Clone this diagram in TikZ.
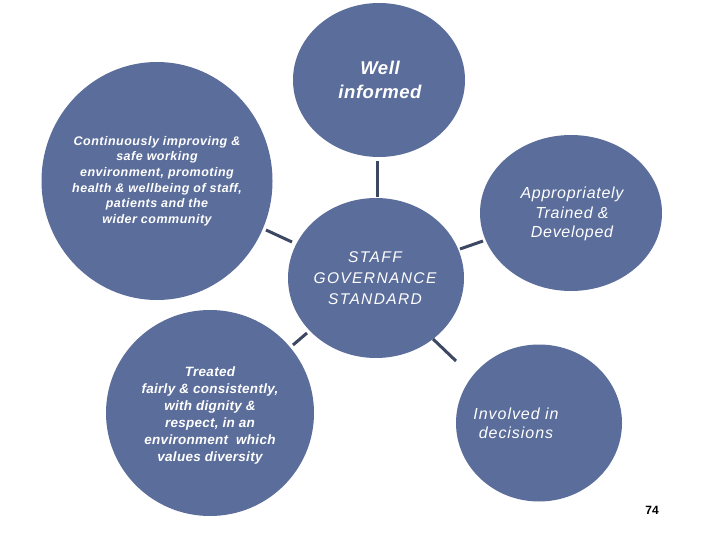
\documentclass[tikz,border=0pt]{standalone}
\usepackage{fontspec}
\setmainfont{Liberation Sans}
\usetikzlibrary{shapes.geometric}
\definecolor{bubble}{HTML}{5B6D9A}
\definecolor{linkc}{HTML}{3C4762}
\tikzset{
  bub/.style={ellipse, fill=bubble, draw=none, inner sep=0pt},
  txt/.style={text=white, align=center, inner sep=0pt},
  conn/.style={draw=linkc, line width=3pt}
}
\begin{document}
\begin{tikzpicture}[x=1pt,y=-1pt]
\useasboundingbox[fill=white] (0,0) rectangle (720,540);
% bubbles
\node[bub, minimum width=172pt, minimum height=154pt] (top) at (379,80) {};
\node[bub, minimum width=231pt, minimum height=238pt] (lt) at (157,181) {};
\node[bub, minimum width=182pt, minimum height=156pt] (rt) at (571,213) {};
\node[bub, minimum width=176pt, minimum height=160pt] (mid) at (376,278) {};
\node[bub, minimum width=208pt, minimum height=206pt] (lb) at (210,413) {};
\node[bub, minimum width=166pt, minimum height=157pt] (rb) at (539,423) {};
% texts
\node[txt, font=\addfontfeatures{LetterSpace=3}\fontsize{18.5}{24}\selectfont\bfseries\itshape] (ttop) at (380,80) {Well\\informed};
\node[txt, font=\addfontfeatures{LetterSpace=4}\fontsize{12.5}{15.6}\selectfont\bfseries\itshape] (tlt) at (157,181) {Continuously improving \&\\safe working\\environment, promoting\\health \& wellbeing of staff,\\patients and the\\wider community};
\node[txt, font=\addfontfeatures{LetterSpace=4.5}\fontsize{16}{19.5}\selectfont\itshape] (trt) at (572,214) {Appropriately\\Trained \&\\Developed};
\node[txt, font=\addfontfeatures{LetterSpace=9}\fontsize{15.5}{21}\selectfont\itshape] (tmid) at (375,278) {STAFF\\GOVERNANCE\\STANDARD};
\node[txt, font=\addfontfeatures{LetterSpace=2}\fontsize{13.5}{17}\selectfont\bfseries\itshape] (tlb) at (210,416) {Treated\\fairly \& consistently,\\with dignity \&\\respect, in an\\environment\ \ which\\values diversity};
\node[txt, font=\addfontfeatures{LetterSpace=6}\fontsize{16}{19}\selectfont\itshape] (trb) at (516,423) {Involved in\\decisions};
\node[font=\fontsize{12}{14}\selectfont\bfseries, inner sep=0pt] (pg) at (652,510) {74};
% connectors
\coordinate (a1) at (377,161); \coordinate (a2) at (377,197);
\coordinate (b1) at (460,249); \coordinate (b2) at (483,241);
\coordinate (c1) at (266,230); \coordinate (c2) at (292,242);
\coordinate (d1) at (293,345); \coordinate (d2) at (307,333);
\coordinate (e1) at (433,339); \coordinate (e2) at (456,361);
\draw[conn] (a1) -- (a2);
\draw[conn] (b1) -- (b2);
\draw[conn] (c1) -- (c2);
\draw[conn] (d1) -- (d2);
\draw[conn] (e1) -- (e2);
\end{tikzpicture}
\end{document}
